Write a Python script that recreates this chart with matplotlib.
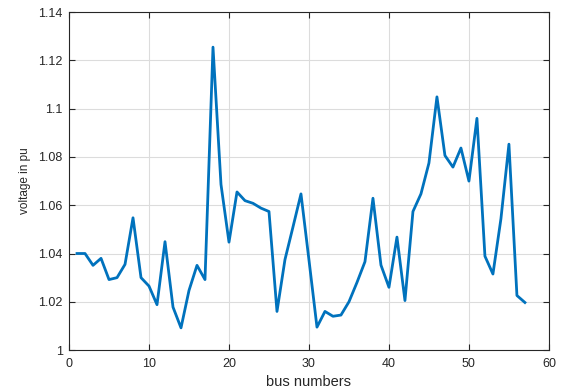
import numpy as np
import matplotlib.pyplot as plt

plt.rcParams['font.family'] = ['Liberation Sans', 'DejaVu Sans']

bus = np.arange(1, 58)
voltage = [1.040, 1.040, 1.0351, 1.038, 1.0292, 1.030, 1.0355, 1.0548, 1.030, 1.0265,
           1.0188, 1.0449, 1.0178, 1.0092, 1.0247, 1.0351, 1.0292, 1.1255, 1.0686, 1.0447,
           1.0655, 1.0619, 1.0608, 1.0588, 1.0574, 1.016, 1.0375, 1.051, 1.0647, 1.0373,
           1.0095, 1.016, 1.014, 1.0145, 1.020, 1.028, 1.0366, 1.0629, 1.0352, 1.026,
           1.0468, 1.0205, 1.0574, 1.0647, 1.0775, 1.1049, 1.0806, 1.0758, 1.0837, 1.070,
           1.096, 1.0389, 1.0315, 1.0544, 1.0853, 1.0226, 1.0197]
xticks = [0, 10, 20, 30, 40, 50, 60]
yticks = [1, 1.02, 1.04, 1.06, 1.08, 1.1, 1.12, 1.14]
ytick_labels = ['1', '1.02', '1.04', '1.06', '1.08', '1.1', '1.12', '1.14']

fig = plt.figure(figsize=(5.63, 3.92), dpi=100)
ax = fig.add_axes([0.1226, 0.107, 0.8524, 0.862])
ax.plot(bus, voltage, color='#0072BD', linewidth=2)

ax.set_xlim(0, 60)
ax.set_ylim(1, 1.14)
ax.set_xticks(xticks)
ax.set_yticks(yticks)
ax.set_yticklabels(ytick_labels)
ax.grid(True, color='#dcdcdc', linewidth=0.8)
ax.set_axisbelow(True)
ax.tick_params(direction='in', top=True, right=True, labelsize=9, colors='#262626', length=4)
ax.tick_params(axis='x', pad=6)
ax.tick_params(axis='y', pad=4.5)
for s in ax.spines.values():
    s.set_color('#262626')
    s.set_linewidth(0.8)
ax.set_xlabel('bus numbers', fontsize=10.5, color='#262626', labelpad=3)
ax.set_ylabel('voltage in pu', fontsize=8.5, color='#262626', labelpad=5)

fig.savefig('out.png', dpi=100)
